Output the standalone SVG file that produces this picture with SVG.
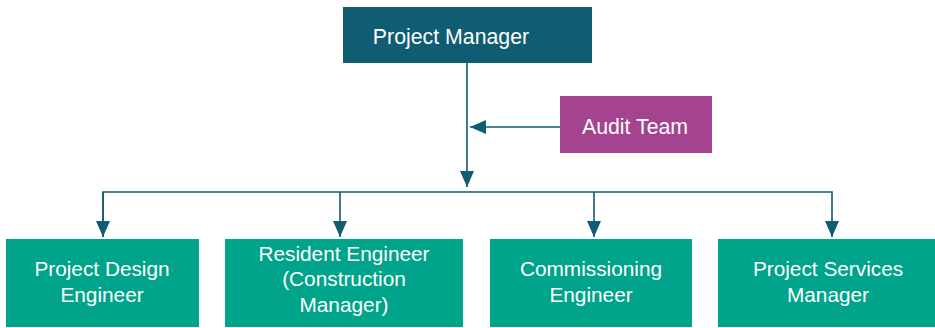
<svg xmlns="http://www.w3.org/2000/svg" width="935" height="328" viewBox="0 0 935 328">
<style>
.t{font-family:"Liberation Sans",Arial,sans-serif;fill:#ffffff;text-anchor:middle}
.pm{fill:#0F5C73}
.au{fill:#A4438F}
.ch{fill:#00A48A}
.c{fill:none;stroke:#0F5C73;stroke-width:1.6}
</style>
<defs>
<marker id="ah" markerUnits="userSpaceOnUse" markerWidth="16" markerHeight="14" refX="16" refY="7" orient="auto">
<path d="M0,0 L16,7 L0,14 Z" fill="#0F5C73"/>
</marker>
</defs>
<rect width="935" height="328" fill="#ffffff"/>
<g id="connectors">
<path class="c" d="M467,63 V187" marker-end="url(#ah)"/>
<path class="c" d="M560,127 H470" marker-end="url(#ah)"/>
<path class="c" d="M103,237 V192 H832 V237" marker-end="url(#ah)"/>
<path class="c" d="M340,192 V237" marker-end="url(#ah)"/>
<path class="c" d="M594,192 V237" marker-end="url(#ah)"/>
<path class="c" d="M103,192 V237" marker-end="url(#ah)"/>
</g>
<g id="project-manager">
<rect class="pm" x="343" y="7" width="249" height="56"/>
<text class="t" x="451" y="44" font-size="21.3">Project Manager</text>
</g>
<g id="audit-team">
<rect class="au" x="560" y="96" width="152" height="57"/>
<text class="t" x="635" y="134" font-size="21.3">Audit Team</text>
</g>
<g id="project-design-engineer">
<rect class="ch" x="6" y="239" width="193" height="88"/>
<text class="t" x="102" y="276" font-size="20.8">Project Design</text>
<text class="t" x="102" y="302" font-size="20.8">Engineer</text>
</g>
<g id="resident-engineer">
<rect class="ch" x="225" y="239" width="238" height="88"/>
<text class="t" x="344" y="261" font-size="20.8">Resident Engineer</text>
<text class="t" x="344" y="286" font-size="20.8">(Construction</text>
<text class="t" x="344" y="312" font-size="20.8">Manager)</text>
</g>
<g id="commissioning-engineer">
<rect class="ch" x="490" y="239" width="202" height="88"/>
<text class="t" x="591" y="276" font-size="20.8">Commissioning</text>
<text class="t" x="591" y="302" font-size="20.8">Engineer</text>
</g>
<g id="project-services-manager">
<rect class="ch" x="718" y="239" width="217" height="88"/>
<text class="t" x="828" y="276" font-size="20.8">Project Services</text>
<text class="t" x="828" y="302" font-size="20.8">Manager</text>
</g>
</svg>
